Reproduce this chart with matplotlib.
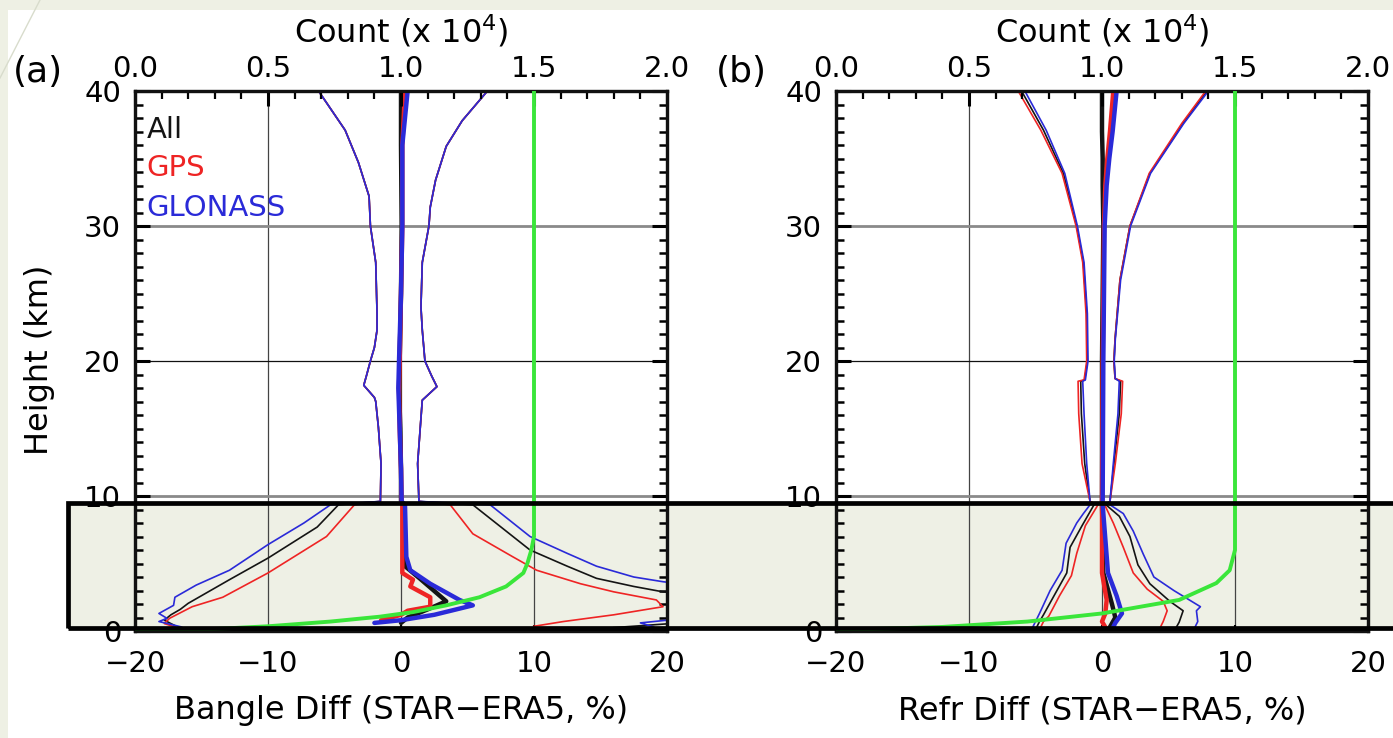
import matplotlib.pyplot as plt
import numpy as np
from matplotlib.patches import Rectangle
from matplotlib.lines import Line2D
from matplotlib.ticker import MultipleLocator

W, H = 1393, 738

# ---------------- panel (a): bending angle ----------------
# upper part (above ~9.5 km): std envelopes nearly identical for all systems
a_up_h_l = [40, 37.1, 34.7, 32.2, 30, 27.3, 23.5, 22.3, 21, 20, 18.9, 18.2, 17.3, 17.0, 15.1, 12.4, 9.6]
a_up_l = [-6.2, -4.2, -3.2, -2.4, -2.3, -1.9, -1.8, -1.8, -2.0, -2.3, -2.6, -2.8, -2.0, -1.9, -1.7, -1.5, -1.55]
a_up_h_r = [40, 37.8, 35.9, 33.4, 31.4, 30, 27.3, 24, 22.3, 20, 18.9, 18.1, 17.1, 15.1, 12.4, 9.6]
a_up_r = [6.5, 4.6, 3.4, 2.6, 2.2, 2.1, 1.6, 1.5, 1.6, 1.8, 2.3, 2.7, 1.6, 1.45, 1.25, 1.35]

# lower part (inside the box)
a_all_l_h = [9.35, 7.7, 5.4, 3.8, 2.05, 1.6, 1.2, 0.8, 0.4]
a_all_l = [-4.7, -6.3, -10, -12.9, -16, -16.6, -17.3, -17.8, -17]
a_gps_l_h = [9.35, 7.0, 4.3, 2.5, 1.8, 0.94, 0.55, 0.3]
a_gps_l = [-3.5, -5.6, -10, -13.4, -15.7, -17.4, -17.8, -17]
a_glo_l_h = [9.35, 8.0, 6.4, 4.5, 3.4, 2.5, 1.9, 1.3, 0.94, 0.7, 0.3]
a_glo_l = [-5.3, -7.3, -10, -12.9, -15.4, -17, -17.1, -18.2, -17.6, -18.2, -16.5]

a_all_r_h = [9.35, 6.0, 4.8, 3.9, 3.3, 2.9, 2.8, 0.6, 0.25]
a_all_r = [5.4, 9.7, 12.5, 14.7, 17.5, 19.7, 21, 21, 16]
a_gps_r_h = [9.35, 7.2, 5.5, 4.5, 3.5, 2.9, 2.3, 1.8, 1.2, 0.7, 0.35]
a_gps_r = [3.7, 5.4, 8.4, 10.2, 13.5, 16, 19.2, 19.7, 16, 12.2, 10]
a_glo_r_h = [9.35, 7.0, 5.75, 4.8, 4.0, 3.65, 3.5, 0.9, 0.6, 0.3]
a_glo_r = [6.7, 9.7, 12.5, 14.7, 17.5, 19.7, 21, 21, 18, 19]

# mean profiles
a_mean_up_h = [40, 38, 36, 30, 25, 20, 18, 15, 12, 9.6]
a_all_mean_up = [0.0, 0.0, 0.0, 0.05, 0.0, -0.1, -0.15, -0.05, 0.0, 0.0]
a_gps_mean_up = [0.3, 0.2, 0.1, 0.1, 0.0, -0.1, -0.15, -0.1, 0.0, 0.05]
a_glo_mean_up = [0.5, 0.3, 0.1, 0.1, 0.0, -0.15, -0.2, -0.1, 0.0, 0.05]
a_all_mean_lo_h = [9.35, 4.8, 3.9, 2.2, 1.6, 1.0, 0.6]
a_all_mean_lo = [0.2, 0.3, 1.4, 3.4, 2.0, 0.5, 0.0]
a_gps_mean_lo_h = [9.35, 4.3, 3.8, 3.3, 2.5, 1.8, 1.5, 1.2, 0.8]
a_gps_mean_lo = [0.1, 0.1, 0.9, 0.7, 2.2, 2.2, 0.5, 0.0, -1.5]
a_glo_mean_lo_h = [9.35, 5.5, 4.5, 3.5, 2.3, 1.9, 1.2, 0.8, 0.6]
a_glo_mean_lo = [0.3, 0.4, 0.7, 2.2, 4.4, 5.4, 2.5, 0.0, -2.0]

# count profile (x 10^4)
a_cnt_h = [40, 10, 7.0, 6.0, 5.0, 4.3, 3.3, 2.5, 1.9, 1.4, 1.06, 0.7, 0.35, 0.15, 0.0]
a_cnt = [1.5, 1.5, 1.5, 1.49, 1.475, 1.46, 1.395, 1.295, 1.17, 1.045, 0.92, 0.735, 0.5, 0.3, 0.0]

# ---------------- panel (b): refractivity ----------------
b_up_h_l = [40, 37.1, 33.9, 30, 27.3, 23.5, 20, 18.6, 18.5, 16.1, 12.4, 9.6]
b_all_up_l = [-6.05, -4.4, -2.9, -1.9, -1.4, -1.15, -1.1, -1.3, -1.6, -1.55, -1.3, -0.9]
b_gps_up_l = [-6.3, -4.6, -3.0, -1.95, -1.45, -1.2, -1.15, -1.35, -1.8, -1.75, -1.5, -0.9]
b_glo_up_l = [-5.8, -4.2, -2.8, -1.85, -1.35, -1.1, -1.05, -1.25, -1.45, -1.35, -1.15, -0.9]
b_up_h_r = [40, 37.6, 33.9, 30, 26, 21.6, 20, 18.7, 18.5, 16.1, 12.4, 9.6]
b_all_up_r = [7.9, 6.1, 3.6, 2.1, 1.35, 0.98, 0.9, 0.98, 1.4, 1.3, 0.9, 0.6]
b_gps_up_r = [7.8, 6.0, 3.55, 2.1, 1.35, 0.98, 0.9, 0.98, 1.55, 1.45, 1.0, 0.6]
b_glo_up_r = [8.0, 6.15, 3.65, 2.15, 1.4, 1.0, 0.92, 1.0, 1.3, 1.2, 0.85, 0.6]

b_all_l_h = [9.35, 7.8, 6.2, 4.3, 2.8, 1.2, 0.7, 0.3]
b_all_l = [-0.6, -1.5, -2.4, -2.65, -3.5, -4.4, -4.7, -4.9]
b_gps_l_h = [9.35, 7.8, 5.75, 4.1, 2.6, 1.1, 0.7, 0.3]
b_gps_l = [-0.3, -1.25, -1.9, -2.3, -3.2, -4.0, -4.4, -4.6]
b_glo_l_h = [9.35, 8.7, 8.0, 6.5, 4.5, 3.0, 1.3, 0.7, 0.3]
b_glo_l = [-0.9, -1.4, -1.9, -2.7, -3.0, -3.9, -4.7, -5.0, -5.2]

b_all_r_h = [9.35, 8.5, 7.0, 4.9, 3.5, 2.2, 1.5, 0.65, 0.3]
b_all_r = [0.3, 1.3, 2.1, 2.7, 3.6, 5.1, 6.1, 5.8, 5.6]
b_gps_r_h = [9.35, 8.0, 6.2, 4.3, 3.1, 2.2, 1.5, 0.7, 0.3]
b_gps_r = [0.2, 0.85, 1.6, 2.35, 3.4, 4.6, 4.9, 4.6, 4.4]
b_glo_r_h = [9.35, 8.7, 7.4, 5.7, 4.0, 3.0, 1.8, 1.5, 0.7, 0.3]
b_glo_r = [0.6, 1.6, 2.35, 3.1, 3.9, 5.4, 7.4, 7.1, 7.2, 7.0]

b_mean_up_h = [40, 37, 35, 33, 30, 20, 9.6]
b_all_mean_up = [0.0, 0.0, 0.05, 0.05, 0.1, 0.0, 0.0]
b_gps_mean_up = [0.85, 0.6, 0.4, 0.25, 0.15, 0.05, 0.0]
b_glo_mean_up = [1.1, 0.8, 0.55, 0.35, 0.2, 0.1, 0.05]
b_all_mean_lo_h = [9.35, 4.3, 2.0, 1.0, 0.3]
b_all_mean_lo = [0.0, 0.1, 0.75, 1.0, 0.6]
b_gps_mean_lo_h = [9.35, 4.3, 2.3, 1.3, 0.7, 0.2]
b_gps_mean_lo = [0.0, 0.0, 0.35, 0.25, 0.0, 0.3]
b_glo_mean_lo_h = [9.35, 4.3, 2.6, 1.3, 0.6, 0.2]
b_glo_mean_lo = [0.05, 0.45, 1.1, 1.5, 1.0, 0.8]

b_cnt_h = [40, 10, 6.0, 4.5, 3.55, 2.3, 1.3, 0.7, 0.3, 0.07, 0.0]
b_cnt = [1.5, 1.5, 1.5, 1.48, 1.43, 1.29, 1.0, 0.72, 0.4, 0.0, 0.0]

legend_names = ["All", "GPS", "GLONASS"]
RED, BLUE, BLACK, GREEN = "#ee2424", "#2a2ad8", "#141414", "#3ae63a"
colors = [BLACK, RED, BLUE]

plt.rcParams["font.family"] = "DejaVu Sans"
plt.rcParams["mathtext.default"] = "regular"

TICK_FS = 21
LABEL_FS = 23


def fx(px):
    return px / W


def fy(py):
    return 1 - py / H


fig = plt.figure(figsize=(W / 100, H / 100), dpi=100)
fig.patch.set_facecolor("white")


def setup(ax, ax2):
    ax.patch.set_visible(False)
    ax.set_xlim(-20, 20)
    ax.set_ylim(0, 40)
    ax2.set_xlim(0, 2)
    for a in (ax, ax2):
        for s in a.spines.values():
            s.set_linewidth(2.3)
            s.set_color("#111111")
    ax.set_xticks([-20, -10, 0, 10, 20])
    ax.set_yticks([0, 10, 20, 30, 40])
    ax.yaxis.set_minor_locator(MultipleLocator(1))
    ax.tick_params(axis="y", which="both", direction="in", left=True, right=True, labelsize=TICK_FS, pad=10)
    ax.tick_params(axis="y", which="major", length=11, width=2.2)
    ax.tick_params(axis="y", which="minor", length=6, width=1.8)
    ax.tick_params(axis="x", which="major", direction="in", length=4, width=1.5, labelsize=TICK_FS, pad=14)
    ax2.set_xticks([0, 0.5, 1.0, 1.5, 2.0])
    ax2.set_xticklabels(["0.0", "0.5", "1.0", "1.5", "2.0"])
    ax2.xaxis.set_minor_locator(MultipleLocator(0.1))
    ax2.tick_params(axis="x", which="both", direction="in", labelsize=TICK_FS, pad=6)
    ax2.tick_params(axis="x", which="major", length=11, width=2.2)
    ax2.tick_params(axis="x", which="minor", length=6, width=1.6)
    # grid
    for xv in (-10, 0, 10):
        ax.axvline(xv, color="#444444", lw=0.9, zorder=1)
    ax.axhline(10, color="#8a8a8a", lw=2.0, zorder=1)
    ax.axhline(30, color="#8a8a8a", lw=2.0, zorder=1)
    ax.axhline(20, color="#111111", lw=0.9, zorder=1)


def draw(ax, ax2, std_sets, mean_sets, cnt_h, cnt):
    for col, (lh, lx, rh, rx) in zip(colors, std_sets):
        ax.plot(lx, lh, color=col, lw=1.2, zorder=3)
        ax.plot(rx, rh, color=col, lw=1.2, zorder=3)
    for col, (mh, mx) in zip(colors, mean_sets):
        ax.plot(mx, mh, color=col, lw=3.2, zorder=4, solid_capstyle="round")
    ax2.plot(cnt, cnt_h, color=GREEN, lw=2.8, zorder=5)


# panel (a)
axa = fig.add_axes([fx(135), fy(631), (667 - 135) / W, (631 - 91) / H])
axa2 = axa.twiny()
setup(axa, axa2)
std_a = [
    (a_up_h_l + a_all_l_h, a_up_l + a_all_l, a_up_h_r + a_all_r_h, a_up_r + a_all_r),
    (a_up_h_l + a_gps_l_h, a_up_l + a_gps_l, a_up_h_r + a_gps_r_h, a_up_r + a_gps_r),
    (a_up_h_l + a_glo_l_h, a_up_l + a_glo_l, a_up_h_r + a_glo_r_h, a_up_r + a_glo_r),
]
mean_a = [
    (a_mean_up_h + a_all_mean_lo_h, a_all_mean_up + a_all_mean_lo),
    (a_mean_up_h + a_gps_mean_lo_h, a_gps_mean_up + a_gps_mean_lo),
    (a_mean_up_h + a_glo_mean_lo_h, a_glo_mean_up + a_glo_mean_lo),
]
draw(axa, axa2, std_a, mean_a, a_cnt_h, a_cnt)

# panel (b)
axb = fig.add_axes([fx(836), fy(631), (1368 - 836) / W, (631 - 91) / H])
axb2 = axb.twiny()
setup(axb, axb2)
std_b = [
    (b_up_h_l + b_all_l_h, b_all_up_l + b_all_l, b_up_h_r + b_all_r_h, b_all_up_r + b_all_r),
    (b_up_h_l + b_gps_l_h, b_gps_up_l + b_gps_l, b_up_h_r + b_gps_r_h, b_gps_up_r + b_gps_r),
    (b_up_h_l + b_glo_l_h, b_glo_up_l + b_glo_l, b_up_h_r + b_glo_r_h, b_glo_up_r + b_glo_r),
]
mean_b = [
    (b_mean_up_h + b_all_mean_lo_h, b_all_mean_up + b_all_mean_lo),
    (b_mean_up_h + b_gps_mean_lo_h, b_gps_mean_up + b_gps_mean_lo),
    (b_mean_up_h + b_glo_mean_lo_h, b_glo_mean_up + b_glo_mean_lo),
]
draw(axb, axb2, std_b, mean_b, b_cnt_h, b_cnt)

# legend text inside panel (a)
for name, col, yy in zip(legend_names, colors, [0.928, 0.857, 0.783]):
    axa.text(0.022, yy, name, color=col, fontsize=TICK_FS, transform=axa.transAxes,
             ha="left", va="center", zorder=6)

# panel letters and axis titles
fig.text(fx(13), fy(72), "(a)", fontsize=26, ha="left", va="center")
fig.text(fx(716), fy(72), "(b)", fontsize=26, ha="left", va="center")
fig.text(fx(40), fy(360), "Height (km)", rotation=90, fontsize=LABEL_FS, ha="center", va="center")
for cx in (401, 1102):
    fig.text(fx(cx), fy(31), "Count (x 10$^4$)", fontsize=LABEL_FS, ha="center", va="center")
fig.text(fx(401), fy(711), "Bangle Diff (STAR\u2212ERA5, %)", fontsize=LABEL_FS, ha="center", va="center")
fig.text(fx(1102), fy(711), "Refr Diff (STAR\u2212ERA5, %)", fontsize=LABEL_FS, ha="center", va="center")

# slide background strips and highlight box
fig.add_artist(Rectangle((0, fy(10)), 1, 10 / H, transform=fig.transFigure, color="#eef0e4", lw=0, zorder=10))
fig.add_artist(Rectangle((0, 0), 8 / W, 1, transform=fig.transFigure, color="#eef0e4", lw=0, zorder=10))
fig.add_artist(Line2D([0, fx(40)], [fy(78), fy(0)], transform=fig.transFigure, color="#d8dccc", lw=1.0, zorder=11))
fig.add_artist(Rectangle((fx(68), fy(628)), (1430 - 68) / W, (628 - 503) / H, transform=fig.transFigure,
                         facecolor="#eef0e5", lw=0, zorder=-1))
fig.add_artist(Rectangle((fx(68), fy(628)), (1430 - 68) / W, (628 - 503) / H, transform=fig.transFigure,
                         facecolor="none", edgecolor="black", lw=3.4, zorder=13))

fig.savefig("out.png", dpi=100)
